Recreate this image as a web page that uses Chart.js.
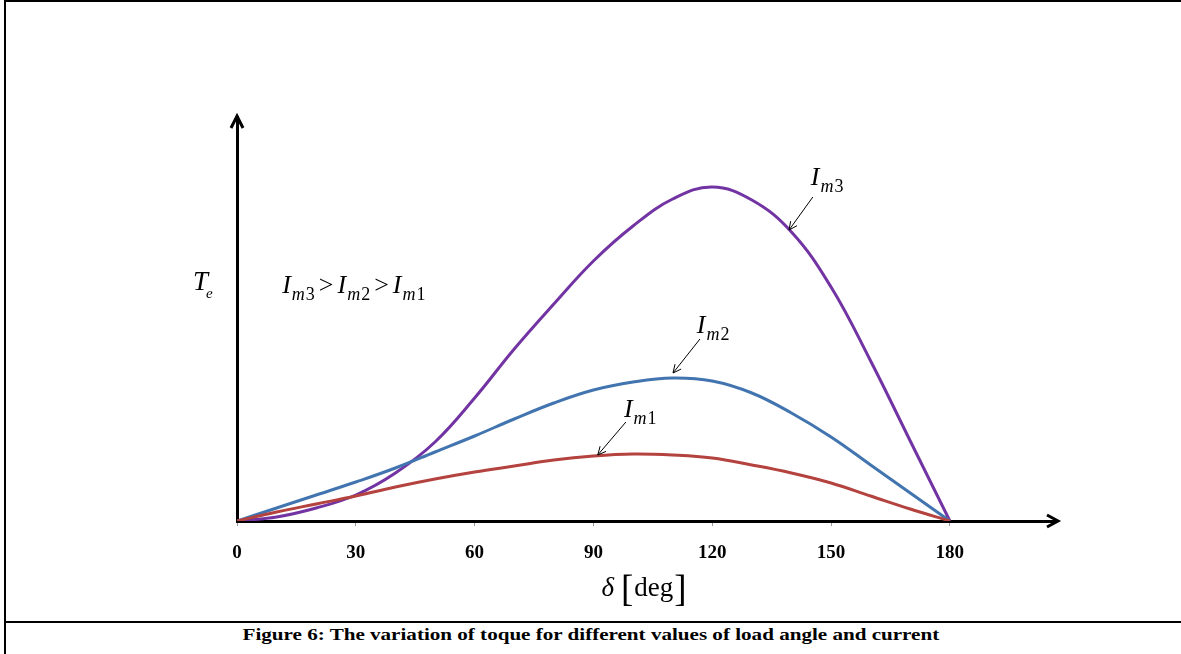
<!DOCTYPE html>
<html>
<head>
<meta charset="utf-8">
<title>Torque vs load angle</title>
<script src="https://cdn.jsdelivr.net/npm/chart.js@4.4.1/dist/chart.umd.min.js"></script>
<style>
  body { margin: 0; background: #fff; }
  #fig { position: relative; width: 1181px; height: 654px; overflow: hidden; background: #fff; }
  .rule { position: absolute; background: #000; }
  #cap {
    position: absolute; left: 0; top: 625px; width: 1181px; text-align: center;
    font: bold 17px "Liberation Serif", "Times New Roman", serif; color: #000;
  }
  #cap span { display: inline-block; transform: scaleX(1.24); transform-origin: 50% 50%; }
  #wrap { position: absolute; left: 0; top: 0; width: 1181px; height: 620px; }
</style>
</head>
<body>
<div id="fig">
  <div class="rule" style="left:4px;top:0;width:2px;height:654px"></div>
  <div class="rule" style="left:4px;top:0;width:1177px;height:2px"></div>
  <div class="rule" style="left:4px;top:621px;width:1177px;height:2px"></div>
  <div id="wrap"><canvas id="torqueChart"></canvas></div>
  <div id="cap"><span>Figure 6: The variation of toque for different values of load angle and current</span></div>
</div>
<script>
// load angle in degrees
const angles = [0, 10, 20, 30, 40, 50, 60, 70, 80, 90, 100, 110, 120, 130, 140, 150, 160, 170, 180];
// electromagnetic torque (arbitrary units)
const torqueIm1 = [0, 9, 17, 25, 34, 42, 49, 55, 61, 65, 67, 66, 63, 56, 48, 38, 25, 12, 0];
const torqueIm2 = [0, 13, 26, 39, 53, 69, 85, 102, 118, 131, 139, 143, 140, 128, 108, 84, 56, 28, 0];
const torqueIm3 = [0, 4, 13, 26, 48, 79, 123, 172, 217, 260, 295, 322, 334, 321, 289, 234, 160, 80, 0];
const xTicks = [0, 30, 60, 90, 120, 150, 180];

const SERIF = '"Liberation Serif", "Times New Roman", serif';

const toPoints = (vals) => angles.map((a, i) => ({ x: a, y: vals[i] }));

// draw "I" with subscript m<n>, left x / baseline y in pixels
function drawCurrent(ctx, x, y, digit) {
  ctx.font = "italic 26px " + SERIF;
  ctx.fillText("I", x, y);
  let w = ctx.measureText("I").width;
  ctx.font = "italic 18px " + SERIF;
  ctx.fillText("m", x + w + 1, y + 7);
  let wm = ctx.measureText("m").width;
  ctx.font = "18px " + SERIF;
  ctx.fillText(digit, x + w + 2 + wm, y + 7);
  return x + w + 2 + wm + ctx.measureText(digit).width;
}

function drawPointer(ctx, x1, y1, x2, y2) {
  ctx.save();
  ctx.lineWidth = 1;
  ctx.strokeStyle = "#000";
  ctx.beginPath();
  ctx.moveTo(x1, y1);
  ctx.lineTo(x2, y2);
  const ang = Math.atan2(y2 - y1, x2 - x1);
  const len = 9;
  ctx.moveTo(x2 - len * Math.cos(ang - 0.45), y2 - len * Math.sin(ang - 0.45));
  ctx.lineTo(x2, y2);
  ctx.lineTo(x2 - len * Math.cos(ang + 0.45), y2 - len * Math.sin(ang + 0.45));
  ctx.stroke();
  ctx.restore();
}

// annotation anchors in data units (deg, torque)
const labelIm3 = { x: 144.9, y: 336, from: [145.4, 324], to: [139.4, 291] };
const labelIm2 = { x: 116.1, y: 188, from: [116.9, 182], to: [110.1, 148] };
const labelIm1 = { x: 97.7, y: 104, from: [98.2, 99], to: [91.1, 66] };

const decorPlugin = {
  id: "decor",
  afterDraw(chart) {
    const ctx = chart.ctx;
    const xs = chart.scales.x;
    const ys = chart.scales.y;
    const area = chart.chartArea;
    ctx.save();
    ctx.fillStyle = "#000";
    ctx.strokeStyle = "#000";

    // axis arrow heads
    ctx.lineWidth = 3;
    ctx.lineJoin = "miter";
    const y0 = ys.getPixelForValue(0);
    const xr = area.right + 2;
    ctx.beginPath();
    ctx.moveTo(xr - 11, y0 - 6);
    ctx.lineTo(xr, y0);
    ctx.lineTo(xr - 11, y0 + 6);
    ctx.stroke();
    const x0 = xs.getPixelForValue(0);
    const yt = area.top - 1;
    ctx.beginPath();
    ctx.moveTo(x0 - 6, yt + 12);
    ctx.lineTo(x0, yt);
    ctx.lineTo(x0 + 6, yt + 12);
    ctx.stroke();

    ctx.textBaseline = "alphabetic";
    ctx.textAlign = "left";

    // curve labels with pointers
    [[labelIm3, "3"], [labelIm2, "2"], [labelIm1, "1"]].forEach(([l, d]) => {
      drawCurrent(ctx, xs.getPixelForValue(l.x), ys.getPixelForValue(l.y), d);
      drawPointer(ctx,
        xs.getPixelForValue(l.from[0]), ys.getPixelForValue(l.from[1]),
        xs.getPixelForValue(l.to[0]), ys.getPixelForValue(l.to[1]));
    });

    // ordering note
    let px = xs.getPixelForValue(11.4);
    const py = ys.getPixelForValue(228);
    ["3", "2", "1"].forEach((d, i) => {
      px = drawCurrent(ctx, px, py, d);
      if (i < 2) {
        ctx.font = "26px " + SERIF;
        ctx.fillText(">", px + 4, py);
        px += 4 + ctx.measureText(">").width + 4;
      }
    });

    // y axis symbol T_e
    ctx.font = "italic 27px " + SERIF;
    ctx.fillText("T", x0 - 44, py - 3);
    ctx.font = "italic 15px " + SERIF;
    ctx.fillText("e", x0 - 31, py + 5);

    // x axis title: delta [deg]
    const cx = xs.getPixelForValue(90);
    const by = area.bottom + 75;
    ctx.font = "italic 27px " + SERIF;
    ctx.fillText("\u03b4", cx + 8, by);
    let tx = cx + 8 + ctx.measureText("\u03b4").width + 7;
    ctx.font = "37px " + SERIF;
    ctx.fillText("[", tx, by + 5);
    tx += ctx.measureText("[").width + 1;
    ctx.font = "27px " + SERIF;
    ctx.fillText("deg", tx, by);
    tx += ctx.measureText("deg").width + 1;
    ctx.font = "37px " + SERIF;
    ctx.fillText("]", tx, by + 5);
    ctx.restore();
  }
};

const lineStyle = (color) => ({
  borderColor: color,
  backgroundColor: color,
  borderWidth: 3,
  pointRadius: 0,
  tension: 0.4,
  fill: false
});

new Chart(document.getElementById("torqueChart"), {
  type: "line",
  data: {
    datasets: [
      { label: "Im1", data: toPoints(torqueIm1), ...lineStyle("#B4423E") },
      { label: "Im2", data: toPoints(torqueIm2), ...lineStyle("#4275B0") },
      { label: "Im3", data: toPoints(torqueIm3), ...lineStyle("#7233A3") }
    ]
  },
  options: {
    responsive: true,
    maintainAspectRatio: false,
    animation: false,
    layout: { padding: { left: 237, right: 125, top: 117, bottom: 0 } },
    plugins: {
      legend: { display: false },
      tooltip: { enabled: false }
    },
    scales: {
      x: {
        type: "linear",
        min: 0,
        max: 206.8,
        afterBuildTicks: (s) => { s.ticks = xTicks.map((v) => ({ value: v })); },
        afterFit: (s) => { s.height = 99; },
        border: { display: true, color: "#000", width: 3 },
        grid: { drawOnChartArea: false, drawTicks: true, tickLength: 5, color: "#999", lineWidth: 1 },
        ticks: {
          autoSkip: false,
          maxRotation: 0,
          padding: 16,
          color: "#000",
          font: { family: SERIF, size: 19, weight: "bold" }
        }
      },
      y: {
        type: "linear",
        min: 0,
        max: 404,
        afterFit: (s) => { s.width = 0; },
        border: { display: true, color: "#000", width: 3 },
        grid: { display: false },
        ticks: { display: false }
      }
    }
  },
  plugins: [decorPlugin]
});
</script>
</body>
</html>
